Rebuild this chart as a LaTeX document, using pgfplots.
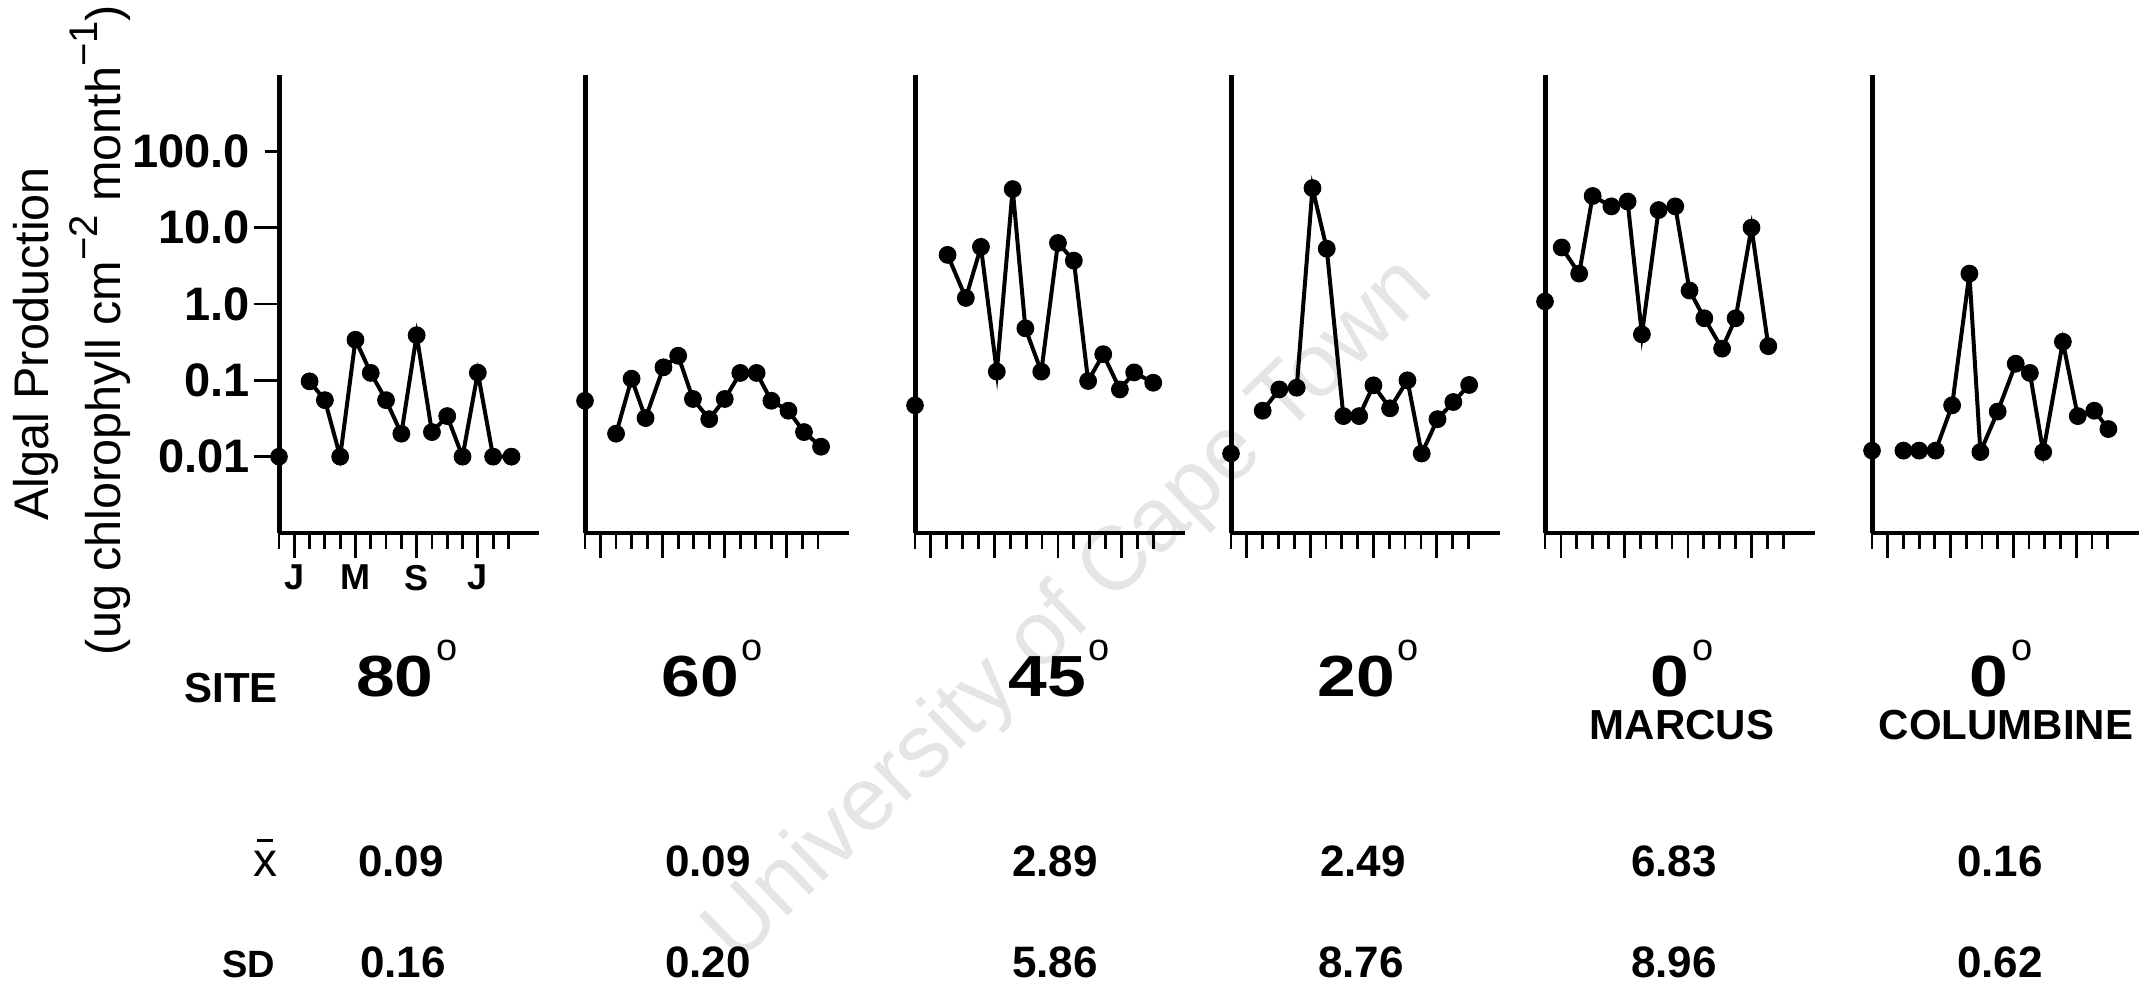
\documentclass[border=0pt]{standalone}
\usepackage{fontspec}
\setmainfont{Liberation Sans}
\usepackage{pgfplots}
\pgfplotsset{compat=1.18}

\newcommand{\sdeg}{\rlap{\hspace{1.5pt}\raisebox{18pt}{\fontsize{19}{19}\mdseries\selectfont o}}}
\newcommand{\site}[1]{\scalebox{1.2}[1]{#1}\sdeg}
\newcommand{\xbar}{\vbox{\offinterlineskip\hbox to 12pt{\hfil\vrule width 8pt height 1.5pt\hfil}\vskip 5pt\hbox to 12pt{\hfil x\hfil}}}

\begin{document}
\begin{tikzpicture}
\path[use as bounding box] (0pt,0pt) rectangle (1077.5pt,492pt);
\node[rotate=44, text=black!10, font=\fontsize{45}{45}\selectfont] at (535pt,186pt) {University of Cape Town};

% ---- 80 deg
\begin{axis}[scale only axis, height=229pt, width=130pt,
    at={(139.5pt,225.5pt)}, anchor=south west,
    ymode=log, ymin=0.001, ymax=1000, xmin=0, xmax=17,
    axis x line*=bottom, axis y line*=left,
    x axis line style={line width=1.6pt}, y axis line style={line width=2.5pt},
    xtick={1,5,9,13}, minor xtick={0,2,3,4,6,7,8,10,11,12,14,15},
    tick align=outside, major tick length=12.5pt, minor tick length=8pt,
    tick style={black, line width=1.4pt},
    clip=false,
    ytick={0.01,0.1,1,10,100}, yticklabels={0.01,0.1,1.0,10.0,100.0},
    yminorticks=false,
    every major y tick/.append style={shorten <=5.5pt, line width=1.2pt},
    yticklabel style={font=\fontsize{23.5}{23.5}\bfseries\selectfont, xshift=1.5pt},
    xticklabels={J,M,S,J},
    xticklabel style={font=\fontsize{18}{18}\bfseries\selectfont}]
\addplot[black, only marks, mark=*, mark size=4.2pt] coordinates {(0,0.01)};
\addplot[black, line width=2pt, mark=*, mark size=4.2pt, mark options={solid, line width=0.5pt}] coordinates {(2,0.097)(3,0.055)(4,0.010)(5,0.34)(6,0.125)(7,0.055)(8,0.020)(9,0.39)(10,0.021)(11,0.034)(12,0.010)(13,0.126)(14,0.010)(15.2,0.010)};
\end{axis}

% ---- 60 deg
\begin{axis}[scale only axis, height=229pt, width=132pt,
    at={(292.5pt,225.5pt)}, anchor=south west,
    ymode=log, ymin=0.001, ymax=1000, xmin=0, xmax=17,
    axis x line*=bottom, axis y line*=left,
    x axis line style={line width=1.6pt}, y axis line style={line width=2.5pt},
    xtick={1,5,9,13}, minor xtick={0,2,3,4,6,7,8,10,11,12,14,15},
    tick align=outside, major tick length=12.5pt, minor tick length=8pt,
    tick style={black, line width=1.4pt},
    clip=false, ytick=\empty, yminorticks=false, xticklabels={}]
\addplot[black, only marks, mark=*, mark size=4.2pt] coordinates {(0,0.054)};
\addplot[black, line width=2pt, mark=*, mark size=4.2pt, mark options={solid, line width=0.5pt}] coordinates {(2,0.020)(3,0.105)(3.9,0.032)(5.05,0.148)(6,0.21)(6.95,0.057)(8,0.031)(9,0.057)(10,0.125)(11.05,0.125)(12,0.054)(13.1,0.040)(14.1,0.021)(15.2,0.0135)};
\end{axis}

% ---- 45 deg
\begin{axis}[scale only axis, height=229pt, width=135pt,
    at={(457.5pt,225.5pt)}, anchor=south west,
    ymode=log, ymin=0.001, ymax=1000, xmin=0, xmax=17,
    axis x line*=bottom, axis y line*=left,
    x axis line style={line width=1.6pt}, y axis line style={line width=2.5pt},
    xtick={1,5,9,13}, minor xtick={0,2,3,4,6,7,8,10,11,12,14,15},
    tick align=outside, major tick length=12.5pt, minor tick length=8pt,
    tick style={black, line width=1.4pt},
    clip=false, ytick=\empty, yminorticks=false, xticklabels={}]
\addplot[black, only marks, mark=*, mark size=4.2pt] coordinates {(0,0.047)};
\addplot[black, line width=2pt, mark=*, mark size=4.2pt, mark options={solid, line width=0.5pt}] coordinates {(2.05,4.4)(3.2,1.2)(4.15,5.6)(5.15,0.13)(6.15,32)(6.95,0.48)(7.95,0.13)(9,6.3)(10,3.7)(10.9,0.098)(11.85,0.22)(12.9,0.076)(13.8,0.127)(15,0.093)};
\end{axis}

% ---- 20 deg
\begin{axis}[scale only axis, height=229pt, width=134.5pt,
    at={(615.5pt,225.5pt)}, anchor=south west,
    ymode=log, ymin=0.001, ymax=1000, xmin=0, xmax=17,
    axis x line*=bottom, axis y line*=left,
    x axis line style={line width=1.6pt}, y axis line style={line width=2.5pt},
    xtick={1,5,9,13}, minor xtick={0,2,3,4,6,7,8,10,11,12,14,15},
    tick align=outside, major tick length=12.5pt, minor tick length=8pt,
    tick style={black, line width=1.4pt},
    clip=false, ytick=\empty, yminorticks=false, xticklabels={}]
\addplot[black, only marks, mark=*, mark size=4.2pt] coordinates {(0,0.011)};
\addplot[black, line width=2pt, mark=*, mark size=4.2pt, mark options={solid, line width=0.5pt}] coordinates {(2,0.040)(3.05,0.076)(4.15,0.080)(5.15,33)(6.05,5.3)(7.1,0.034)(8.1,0.034)(9,0.086)(10.05,0.043)(11.15,0.10)(12.05,0.011)(13.05,0.031)(14.05,0.052)(15.05,0.087)};
\end{axis}

% ---- 0 deg Marcus
\begin{axis}[scale only axis, height=229pt, width=135pt,
    at={(772.5pt,225.5pt)}, anchor=south west,
    ymode=log, ymin=0.001, ymax=1000, xmin=0, xmax=17,
    axis x line*=bottom, axis y line*=left,
    x axis line style={line width=1.6pt}, y axis line style={line width=2.5pt},
    xtick={1,5,9,13}, minor xtick={0,2,3,4,6,7,8,10,11,12,14,15},
    tick align=outside, major tick length=12.5pt, minor tick length=8pt,
    tick style={black, line width=1.4pt},
    clip=false, ytick=\empty, yminorticks=false, xticklabels={}]
\addplot[black, only marks, mark=*, mark size=4.2pt] coordinates {(0,1.08)};
\addplot[black, line width=2pt, mark=*, mark size=4.2pt, mark options={solid, line width=0.5pt}] coordinates {(1.05,5.5)(2.15,2.5)(3,26)(4.18,19)(5.2,22)(6.1,0.40)(7.15,17)(8.2,19)(9.1,1.5)(10.03,0.65)(11.15,0.26)(12,0.65)(13,10)(14.06,0.28)};
\end{axis}

% ---- 0 deg Columbine
\begin{axis}[scale only axis, height=229pt, width=133.5pt,
    at={(936pt,225.5pt)}, anchor=south west,
    ymode=log, ymin=0.001, ymax=1000, xmin=0, xmax=17,
    axis x line*=bottom, axis y line*=left,
    x axis line style={line width=1.6pt}, y axis line style={line width=2.5pt},
    xtick={1,5,9,13}, minor xtick={0,2,3,4,6,7,8,10,11,12,14,15},
    tick align=outside, major tick length=12.5pt, minor tick length=8pt,
    tick style={black, line width=1.4pt},
    clip=false, ytick=\empty, yminorticks=false, xticklabels={}]
\addplot[black, only marks, mark=*, mark size=4.2pt] coordinates {(0,0.012)};
\addplot[black, line width=2pt, mark=*, mark size=4.2pt, mark options={solid, line width=0.5pt}] coordinates {(2,0.012)(3,0.012)(4.05,0.012)(5.1,0.047)(6.2,2.5)(6.9,0.0115)(8,0.039)(9.15,0.165)(10.05,0.125)(10.9,0.0115)(12.15,0.32)(13.1,0.034)(14.15,0.040)(15.05,0.023)};
\end{axis}

% ---- y label
\node[rotate=90, anchor=base, font=\fontsize{24.3}{24.3}\selectfont] at (24pt,320pt) {Algal Production};
\node[rotate=90, anchor=base, font=\fontsize{24.3}{24.3}\selectfont] at (60pt,327pt)
  {(ug chlorophyll cm\raisebox{11.5pt}{\fontsize{20}{20}\selectfont −2} month\raisebox{11.5pt}{\fontsize{20}{20}\selectfont −1})};

% ---- site row
\node[anchor=base, font=\fontsize{21}{21}\bfseries\selectfont] at (115.5pt,140.5pt) {SITE};
\node[anchor=base, font=\fontsize{29}{29}\bfseries\selectfont] at (197.5pt,143.5pt) {\site{80}};
\node[anchor=base, font=\fontsize{29}{29}\bfseries\selectfont] at (350pt,143.5pt) {\site{60}};
\node[anchor=base, font=\fontsize{29}{29}\bfseries\selectfont] at (523.5pt,143.5pt) {\site{45}};
\node[anchor=base, font=\fontsize{29}{29}\bfseries\selectfont] at (678pt,143.5pt) {\site{20}};
\node[anchor=base, font=\fontsize{29}{29}\bfseries\selectfont] at (835pt,143.5pt) {\site{0}};
\node[anchor=base, font=\fontsize{29}{29}\bfseries\selectfont] at (994.5pt,143.5pt) {\site{0}};
\node[anchor=base, font=\fontsize{21}{21}\bfseries\selectfont] at (841pt,122pt) {MARCUS};
\node[anchor=base, font=\fontsize{21}{21}\bfseries\selectfont] at (1003pt,122pt) {COLUMBINE};

% ---- mean row
\node[anchor=base, font=\fontsize{24}{24}\selectfont] at (132.5pt,53.5pt) {\xbar};
\node[anchor=base, font=\fontsize{22}{22}\bfseries\selectfont] at (200.5pt,53.5pt) {0.09};
\node[anchor=base, font=\fontsize{22}{22}\bfseries\selectfont] at (354pt,53.5pt) {0.09};
\node[anchor=base, font=\fontsize{22}{22}\bfseries\selectfont] at (527.5pt,53.5pt) {2.89};
\node[anchor=base, font=\fontsize{22}{22}\bfseries\selectfont] at (681.5pt,53.5pt) {2.49};
\node[anchor=base, font=\fontsize{22}{22}\bfseries\selectfont] at (837pt,53.5pt) {6.83};
\node[anchor=base, font=\fontsize{22}{22}\bfseries\selectfont] at (1000pt,53.5pt) {0.16};

% ---- SD row
\node[anchor=base east, font=\fontsize{19}{19}\bfseries\selectfont] at (141pt,3.5pt) {SD};
\node[anchor=base, font=\fontsize{22}{22}\bfseries\selectfont] at (201.5pt,3.5pt) {0.16};
\node[anchor=base, font=\fontsize{22}{22}\bfseries\selectfont] at (354pt,3.5pt) {0.20};
\node[anchor=base, font=\fontsize{22}{22}\bfseries\selectfont] at (527.5pt,3.5pt) {5.86};
\node[anchor=base, font=\fontsize{22}{22}\bfseries\selectfont] at (680.5pt,3.5pt) {8.76};
\node[anchor=base, font=\fontsize{22}{22}\bfseries\selectfont] at (837pt,3.5pt) {8.96};
\node[anchor=base, font=\fontsize{22}{22}\bfseries\selectfont] at (1000pt,3.5pt) {0.62};
\end{tikzpicture}
\end{document}
